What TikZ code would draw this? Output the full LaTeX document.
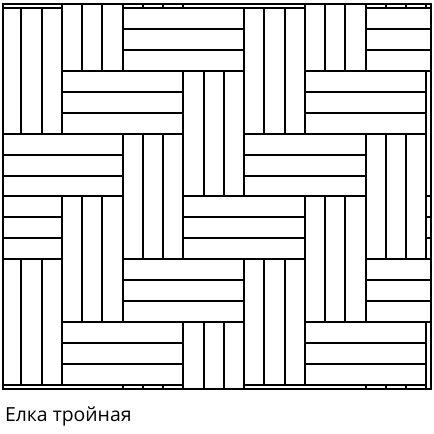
\documentclass[tikz,border=0pt]{standalone}
\usepackage{fontspec}
\setmainfont{Open Sans}
\begin{document}
\begin{tikzpicture}
  [x=10.125pt,y=-10.472pt,line width=1pt,
   plank/.style={draw=black},
   caption/.style={anchor=base west,inner sep=0pt,font=\fontsize{9.7}{11}\selectfont}]
  \useasboundingbox (-0.0519,-0.382) rectangle (21.38,20.34);
  \begin{scope}
    \clip (0.11,-0.19) rectangle (21.21,18.21);
    \foreach \m in {-6,...,7}
      \foreach \n in {-2,...,4}{
        \pgfmathtruncatemacro{\a}{3*\m+6*\n}
        \pgfmathtruncatemacro{\b}{-3*\m+6*\n}
        \draw[plank] (\a,\b) rectangle ++(3,6)
          (\a+1,\b) -- ++(0,6) (\a+2,\b) -- ++(0,6);
        \draw[plank] (\a+3,\b+3) rectangle ++(6,3)
          (\a+3,\b+4) -- ++(6,0) (\a+3,\b+5) -- ++(6,0);
      }
  \end{scope}
  \draw (0.11,-0.19) rectangle (21.21,18.21);
  \node[caption] (title) at (0.146,19.72) {Елка тройная};
\end{tikzpicture}
\end{document}
